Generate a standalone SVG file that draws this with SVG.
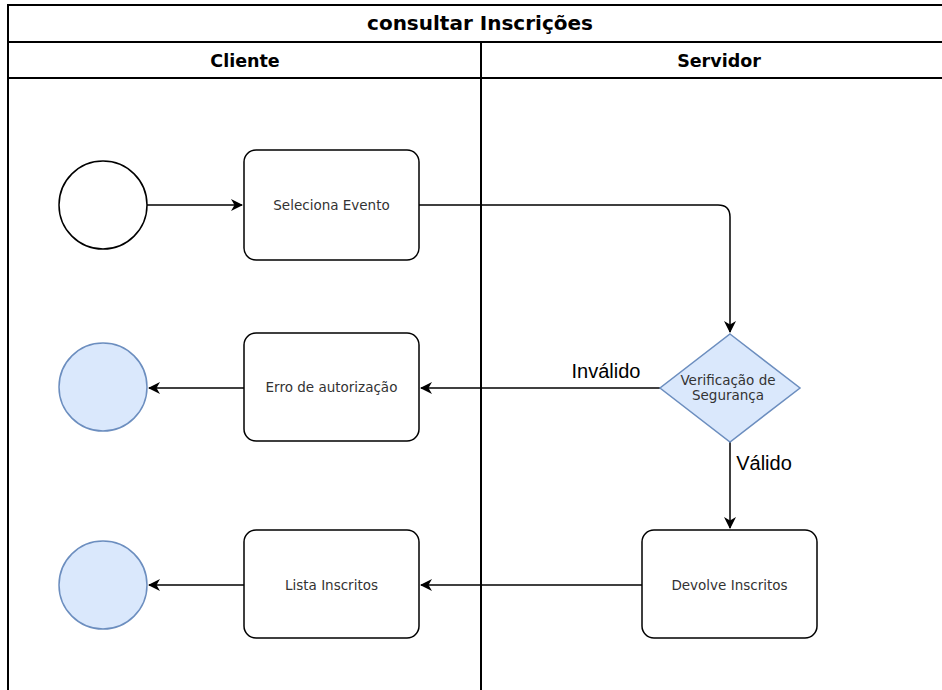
<svg xmlns="http://www.w3.org/2000/svg" width="942" height="690" viewBox="0 0 942 690">
<defs>
<style>
.lane{fill:none;stroke:#000;stroke-width:2}
.box{fill:#fff;stroke:#000;stroke-width:1.5}
.end{fill:#dae8fc;stroke:#6c8ebf;stroke-width:1.5}
.dec{fill:#dae8fc;stroke:#6c8ebf;stroke-width:1.5}
.edge{fill:none;stroke:#000;stroke-width:1.5}
.t{font-family:"DejaVu Sans",Verdana,sans-serif;font-size:13.5px;fill:#333;text-anchor:middle}
.h{font-family:"DejaVu Sans",Verdana,sans-serif;font-weight:bold;font-size:17.5px;fill:#000;text-anchor:middle}
.lbl{font-family:"Liberation Sans",Arial,sans-serif;font-size:20px;fill:#000;text-anchor:middle}
</style>
<marker id="arr" viewBox="0 0 12 12" refX="11" refY="6" markerWidth="12" markerHeight="12" markerUnits="userSpaceOnUse" orient="auto">
<path d="M0,0 L12,6 L0,12 L3.5,6 Z" fill="#000"/>
</marker>
</defs>
<rect width="942" height="690" fill="#fff"/>
<g id="pool">
<path class="lane" d="M8,700 L8,5 L950,5 M8,42 L950,42 M8,78 L950,78 M481,42 L481,700"/>
<text class="h" x="480" y="30" style="font-size:20px">consultar Inscrições</text>
<text class="h" x="245" y="67">Cliente</text>
<text class="h" x="719" y="67">Servidor</text>
</g>
<g id="edges">
<path class="edge" d="M147,205 L242,205" marker-end="url(#arr)"/>
<path class="edge" d="M419,205 L718,205 Q730,205 730,217 L730,332" marker-end="url(#arr)"/>
<path class="edge" d="M660,388 L421,388" marker-end="url(#arr)"/>
<path class="edge" d="M244,388 L149,388" marker-end="url(#arr)"/>
<path class="edge" d="M730,442 L730,528" marker-end="url(#arr)"/>
<path class="edge" d="M642,585 L421,585" marker-end="url(#arr)"/>
<path class="edge" d="M244,585 L149,585" marker-end="url(#arr)"/>
<text class="lbl" x="606" y="378">Inválido</text>
<text class="lbl" x="764" y="470">Válido</text>
</g>
<g id="start"><circle cx="103" cy="205" r="44" fill="#fff" stroke="#000" stroke-width="1.5"/></g>
<g id="seleciona"><rect class="box" x="244" y="150" width="175" height="110" rx="12"/><text class="t" x="331.5" y="210">Seleciona Evento</text></g>
<g id="verificacao"><path class="dec" d="M730,334 L800,388 L730,442 L660,388 Z"/><text class="t" x="728" y="385">Verificação de</text><text class="t" x="728" y="400">Segurança</text></g>
<g id="erro"><rect class="box" x="244" y="333" width="175" height="108" rx="12"/><text class="t" x="331.5" y="392">Erro de autorização</text></g>
<g id="fimErro"><circle class="end" cx="103" cy="387" r="44"/></g>
<g id="devolve"><rect class="box" x="642" y="530" width="175" height="108" rx="12"/><text class="t" x="729.5" y="590">Devolve Inscritos</text></g>
<g id="lista"><rect class="box" x="244" y="530" width="175" height="108" rx="12"/><text class="t" x="331.5" y="590">Lista Inscritos</text></g>
<g id="fimLista"><circle class="end" cx="103" cy="585" r="44"/></g>
</svg>
